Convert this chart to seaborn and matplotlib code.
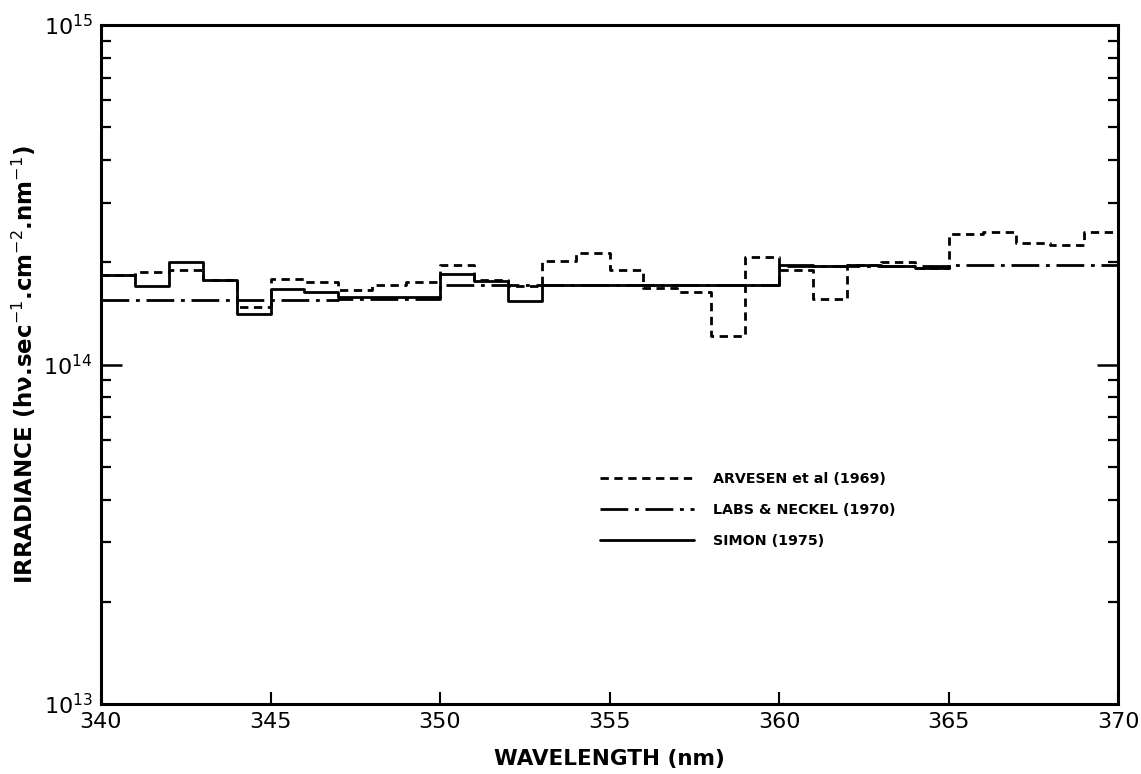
import numpy as np
import pandas as pd
import matplotlib
matplotlib.use("Agg")
import matplotlib.pyplot as plt
import seaborn as sns

# irradiance per 1 nm bin, units of 1e14 photons s-1 cm-2 nm-1
arvesen_start = list(range(340, 370))
arvesen = [1.84, 1.87, 1.90, 1.77, 1.48, 1.79, 1.75, 1.66, 1.72, 1.75,
           1.97, 1.77, 1.70, 2.02, 2.13, 1.90, 1.68, 1.63, 1.21, 2.08,
           1.90, 1.56, 1.97, 2.01, 1.93, 2.43, 2.45, 2.28, 2.25, 2.45]

labs_start = list(range(340, 370))
labs = [1.55, 1.55, 1.55, 1.55, 1.55, 1.55, 1.55, 1.56, 1.56, 1.56,
        1.72, 1.72, 1.72, 1.72, 1.72, 1.72, 1.72, 1.72, 1.72, 1.72,
        1.95, 1.95, 1.95, 1.95, 1.95, 1.96, 1.96, 1.96, 1.96, 1.96]

simon_start = list(range(340, 365))
simon = [1.84, 1.70, 2.01, 1.77, 1.41, 1.67, 1.63, 1.58, 1.58, 1.58,
         1.85, 1.76, 1.54, 1.72, 1.72, 1.72, 1.72, 1.72, 1.72, 1.71,
         1.96, 1.95, 1.97, 1.95, 1.93]

series = [
    ("ARVESEN et al (1969)", arvesen_start, arvesen, (0, (3, 2))),
    ("LABS & NECKEL (1970)", labs_start, labs, (0, (10, 2.4, 1.4, 2.4))),
    ("SIMON (1975)", simon_start, simon, "-"),
]

sns.set_style("ticks")
plt.rcParams['font.family'] = ['DejaVu Sans']
plt.rcParams.update({"text.color": "black", "axes.labelcolor": "black",
                     "xtick.color": "black", "ytick.color": "black"})

fig = plt.figure(figsize=(11.41, 7.74), dpi=100)
ax = fig.add_axes([0.0885, 0.0904, 0.8915, 0.8773])

for name, start, vals, ls in series:
    # close the last bin so the step reaches its right edge
    x = start + [start[-1] + 1]
    y = [v * 1e14 for v in vals] + [vals[-1] * 1e14]
    df = pd.DataFrame({"wl": x, "irr": y})
    sns.lineplot(data=df, x="wl", y="irr", ax=ax, color="black", lw=2.0,
                 linestyle=ls, drawstyle="steps-post", label=name,
                 estimator=None, sort=False)

ax.set_yscale("log")
ax.set_xlim(340, 370)
ax.set_ylim(1e13, 1e15)
ax.set_xticks(np.arange(340, 371, 5))

for s in ax.spines.values():
    s.set_linewidth(2.2)
    s.set_color("black")

ax.tick_params(axis="both", which="both", direction="in", colors="black")
ax.tick_params(axis="y", which="major", length=15, width=1.8, right=True,
               labelsize=16, pad=6)
ax.tick_params(axis="y", which="minor", length=7, width=1.6, right=True)
ax.tick_params(axis="x", which="major", length=9, width=1.5, labelsize=16, pad=6)
for lab in ax.get_xticklabels():
    lab.set_fontweight("medium")

ax.set_xlabel("WAVELENGTH (nm)", fontsize=15.5, fontweight="bold", labelpad=12)
ax.set_ylabel("IRRADIANCE (hν.sec$^{-1}$.cm$^{-2}$.nm$^{-1}$)", fontsize=16.5,
              fontweight="bold", labelpad=4)

leg = ax.legend(loc="center left", bbox_to_anchor=(0.478, 0.286), frameon=False,
                handlelength=6.6, handletextpad=1.3, labelspacing=1.2,
                prop={"size": 10.3, "weight": "bold"})
for h in leg.get_lines():
    h.set_linewidth(2.0)
for t in leg.get_texts():
    t.set_color("black")

fig.savefig("out.png", dpi=100)
